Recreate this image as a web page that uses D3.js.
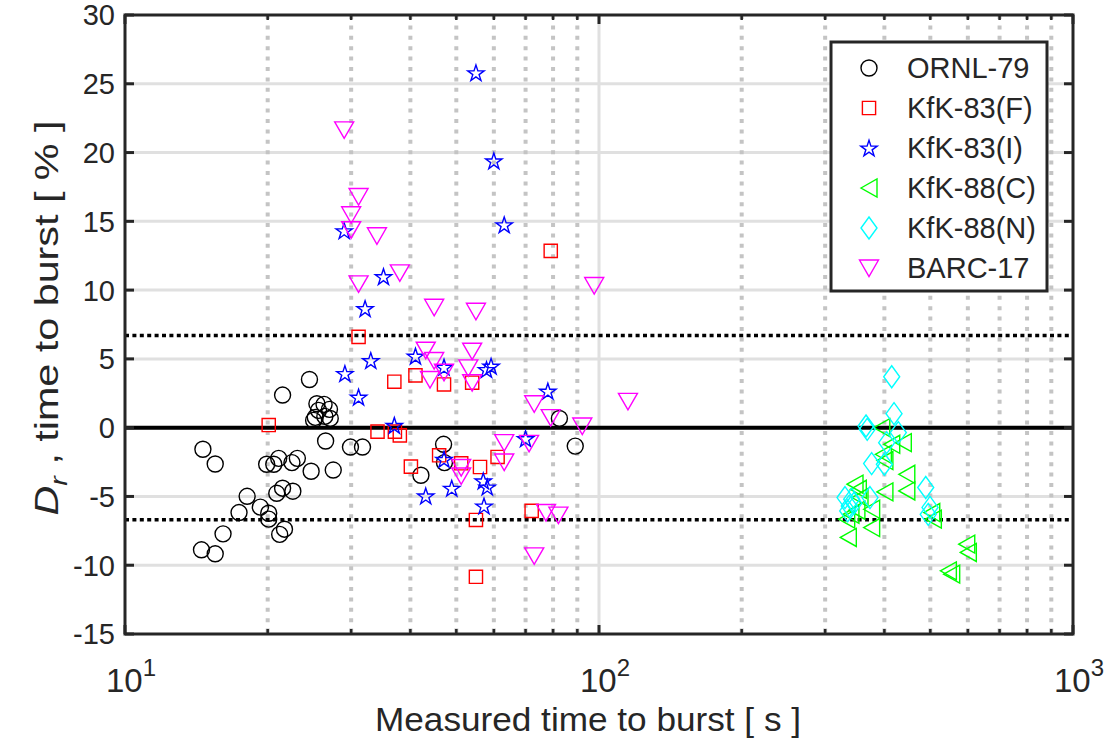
<!DOCTYPE html>
<html><head><meta charset="utf-8">
<script src="https://cdn.jsdelivr.net/npm/d3@7"></script>
<style>body{margin:0;background:#fff}svg{display:block}text{font-family:"Liberation Sans",Arial,sans-serif;fill:#262626}</style>
</head><body><svg id="c" width="1105" height="744"></svg>
<script>
// ---- data: [measured time to burst (s), Dr (%)] ----
const ornl79 = [[24.5,3.5],[21.5,2.37],[19.9,-2.66],[20.6,-2.66],[21.1,-2.23],[22.5,-2.54],[23.1,-2.23],[24.7,-3.17],[27.5,-3.08],[26.5,-0.97],[29.9,-1.41],[31.7,-1.41],[14.6,-1.57],[15.5,-2.64],[21.5,-4.40],[20.9,-4.77],[22.6,-4.62],[18.1,-4.99],[19.3,-5.78],[17.4,-6.17],[20.1,-6.22],[20.1,-6.65],[21.7,-7.38],[21.2,-7.76],[16.1,-7.72],[14.5,-8.88],[15.5,-9.17],[47.0,-1.21],[47.2,-2.54],[42.1,-3.46],[82.5,0.67],[89.1,-1.34],[25.4,1.74],[26.3,1.69],[27.0,1.33],[25.6,1.26],[25.2,0.75],[26.4,0.82],[27.1,0.67],[25.0,0.53]];
const kfk83F = [[20.1,0.19],[31.1,6.6],[37.0,3.34],[41.0,3.80],[47.1,3.14],[54.0,3.27],[34.1,-0.29],[37.1,-0.29],[38.0,-0.56],[46.0,-2.01],[40.1,-2.83],[51.2,-2.59],[56.1,-2.86],[61.1,-2.13],[72.1,-6.05],[55.0,-6.71],[55.0,-10.84],[79.1,12.85]];
const kfk83I = [[29.0,14.32],[35.1,10.98],[32.1,8.66],[33.0,4.88],[31.1,2.22],[29.1,3.94],[37.0,0.17],[41.0,5.2],[47.1,4.4],[57.9,4.23],[59.2,4.47],[78.0,2.66],[70.0,-0.8],[47.1,-2.3],[43.1,-4.96],[48.9,-4.4],[57.0,-3.87],[58.1,-4.31],[57.2,-5.69],[55.0,25.8],[60.0,19.4],[63.1,14.75]];
const kfk88C = [[395,0.0],[438.5,-1.09],[414.5,-1.21],[398,-1.94],[401,-2.39],[446,-3.39],[446,-4.6],[401,-4.67],[346.8,-4.11],[352.4,-4.48],[355.3,-5.08],[376,-5.93],[376,-7.26],[335.7,-7.98],[333.1,-6.65],[507.4,-6.65],[503.5,-6.17],[596.8,-8.47],[601.4,-9.07],[545.8,-10.41],[554.7,-10.65],[340,-6.3],[350,-6.0]];
const kfk88N = [[414.5,3.70],[419.2,1.02],[365.9,0.12],[368,-0.12],[428,-0.36],[404.5,-1.09],[376,-2.61],[400,-2.66],[489,-4.35],[499.3,-5.8],[495,-6.3],[330.4,-5.08],[373,-5.08],[341.3,-5.2],[337.3,-5.7],[334.7,-6.05],[345,-5.5]];
const barc17 = [[29.0,21.65],[31.1,16.8],[30.0,15.48],[30.0,14.39],[34.0,13.95],[38.0,11.25],[31.1,10.45],[44.9,8.75],[55.0,8.46],[97.7,10.33],[43.1,5.63],[44.9,4.88],[44.0,3.5],[47.1,4.03],[54.0,5.56],[53.0,4.35],[54.0,3.27],[73.0,1.74],[79.1,0.73],[92.2,0.12],[63.1,-1.09],[63.1,-2.5],[71.2,-1.14],[51.2,-2.9],[51.2,-3.51],[77.3,-6.17],[82.1,-6.36],[73.0,-9.32],[115.1,1.91]];
const seriesNames = ["ORNL-79","KfK-83(F)","KfK-83(I)","KfK-88(C)","KfK-88(N)","BARC-17"];
const seriesColors = ["#000000","#ff0000","#0000ff","#00ff00","#00ffff","#ff00ff"];
const seriesShapes = ["circle","square","star","left","diamond","down"];
const refBand = 6.7;
const yTicks = [-15,-10,-5,0,5,10,15,20,25,30];
const xMajor = [10,100,1000];
const xMinor = [20,30,40,50,60,70,80,90,200,300,400,500,600,700,800,900];
const xTickLabels = [["10","1"],["10","2"],["10","3"]];

const svg = d3.select("#c");
const L=125,R=1073,T=15,B=634;
const x = d3.scaleLog().domain([10,1000]).range([L,R]);
const y = d3.scaleLinear().domain([-15,30]).range([B,T]);
const allData = [ornl79,kfk83F,kfk83I,kfk88C,kfk88N,barc17];

// grid
const g = svg.append("g");
g.selectAll(".hg").data(yTicks.filter(v=>v>-15&&v<30)).join("line")
 .attr("x1",L).attr("x2",R).attr("y1",d=>y(d)).attr("y2",d=>y(d))
 .attr("stroke","#e0e0e0").attr("stroke-width",3);
g.selectAll(".vg").data(xMinor).join("line")
 .attr("x1",d=>x(d)).attr("x2",d=>x(d)).attr("y1",T).attr("y2",B)
 .attr("stroke","#c4c4c4").attr("stroke-width",4).attr("stroke-dasharray","4 6.4");
g.append("line").attr("x1",x(100)).attr("x2",x(100)).attr("y1",T).attr("y2",B)
 .attr("stroke","#e0e0e0").attr("stroke-width",3);

// reference lines
svg.selectAll(".ref").data([refBand,-refBand]).join("line")
 .attr("x1",L).attr("x2",R).attr("y1",d=>y(d)).attr("y2",d=>y(d))
 .attr("stroke","#000").attr("stroke-width",3.5).attr("stroke-dasharray","4 3.4");
svg.append("line").attr("x1",L).attr("x2",R).attr("y1",y(0)).attr("y2",y(0))
 .attr("stroke","#000").attr("stroke-width",4);

function shapePath(s){
  switch(s){
    case "circle": return "M8,0A8,8 0 1,1 -8,0A8,8 0 1,1 8,0Z";
    case "square": return "M-6.6,-6.6H6.6V6.6H-6.6Z";
    case "star": {
      let p=[];for(let i=0;i<10;i++){const r=i%2?3.3:8.6;const a=-Math.PI/2+i*Math.PI/5;p.push([r*Math.cos(a),r*Math.sin(a)+0.8]);}
      return "M"+p.map(q=>q[0].toFixed(2)+","+q[1].toFixed(2)).join("L")+"Z";}
    case "left": return "M-8,0L8,-9L8,9Z";
    case "diamond": return "M0,-11L8,0L0,11L-8,0Z";
    case "down": return "M-9.5,-8L9.5,-8L0,8.5Z";
  }
}
allData.forEach((data,i)=>{
  svg.append("g").selectAll("path").data(data).join("path")
   .attr("d",shapePath(seriesShapes[i]))
   .attr("transform",d=>`translate(${x(d[0])},${y(d[1])})`)
   .attr("fill","none").attr("stroke",seriesColors[i]).attr("stroke-width",1.4);
});

// frame and ticks
const ax = svg.append("g").attr("stroke","#262626");
yTicks.forEach(v=>{
  ax.append("line").attr("x1",L).attr("x2",L+9).attr("y1",y(v)).attr("y2",y(v)).attr("stroke-width",3);
  ax.append("line").attr("x1",R).attr("x2",R-9).attr("y1",y(v)).attr("y2",y(v)).attr("stroke-width",3);
});
xMajor.forEach(v=>{
  ax.append("line").attr("x1",x(v)).attr("x2",x(v)).attr("y1",B).attr("y2",B-9).attr("stroke-width",3);
  ax.append("line").attr("x1",x(v)).attr("x2",x(v)).attr("y1",T).attr("y2",T+9).attr("stroke-width",3);
});
xMinor.forEach(v=>{
  ax.append("line").attr("x1",x(v)).attr("x2",x(v)).attr("y1",B).attr("y2",B-5).attr("stroke-width",2.5);
  ax.append("line").attr("x1",x(v)).attr("x2",x(v)).attr("y1",T).attr("y2",T+5).attr("stroke-width",2.5);
});
ax.append("rect").attr("x",L).attr("y",T).attr("width",R-L).attr("height",B-T)
  .attr("fill","none").attr("stroke-width",3);

// tick labels
svg.selectAll(".yl").data(yTicks).join("text")
 .attr("x",L-10).attr("y",d=>y(d)).attr("dy","0.36em").attr("text-anchor","end")
 .attr("font-size",29).text(d=>d);
xMajor.forEach((v,i)=>{
  const t = svg.append("text").attr("x",x(v)+6).attr("y",692).attr("text-anchor","middle").attr("font-size",33);
  t.append("tspan").text(xTickLabels[i][0]);
  t.append("tspan").attr("dy",-16).attr("font-size",24).text(xTickLabels[i][1]);
});
// axis labels
svg.append("text").attr("x",588).attr("y",731).attr("text-anchor","middle").attr("font-size",34)
 .attr("textLength",426).attr("lengthAdjust","spacingAndGlyphs")
 .text("Measured time to burst [ s ]");
const yl = svg.append("text").attr("transform","translate(58,318) rotate(-90)").attr("text-anchor","middle").attr("font-size",33)
 .attr("textLength",395).attr("lengthAdjust","spacingAndGlyphs");
yl.append("tspan").attr("font-style","italic").text("D");
yl.append("tspan").attr("font-style","italic").attr("font-size",23).attr("dy",9).text("r");
yl.append("tspan").attr("dy",-9).text(" , time to burst [ % ]");

// legend
const lg = svg.append("g");
lg.append("rect").attr("x",831).attr("y",42).attr("width",216).attr("height",249)
  .attr("fill","#fff").attr("stroke","#262626").attr("stroke-width",3);
seriesNames.forEach((n,i)=>{
  const yy = 68+i*40;
  lg.append("path").attr("d",shapePath(seriesShapes[i])).attr("transform",`translate(869,${yy})`)
    .attr("fill","none").attr("stroke",seriesColors[i]).attr("stroke-width",1.4);
  lg.append("text").attr("x",907).attr("y",yy).attr("dy","0.36em").attr("font-size",29).text(n);
});
</script></body></html>
